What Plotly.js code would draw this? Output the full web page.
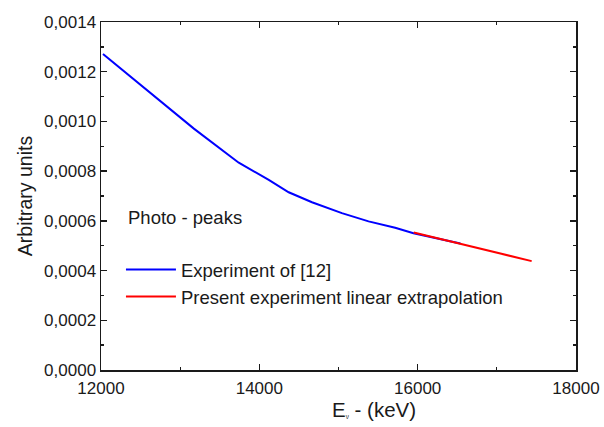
<!DOCTYPE html>
<html>
<head>
<meta charset="utf-8">
<script src="https://cdn.plot.ly/plotly-3.0.1.min.js"></script>
<style>html,body{margin:0;padding:0;background:#fff;}#chart{width:604px;height:427px;}</style>
</head>
<body>
<div id="chart"></div>
<script>
// Experiment of [12] (blue)
const expEnergy = [12025, 12521, 13173, 13740, 14119, 14371, 14665, 15043, 15380, 15716, 15947, 16540];
const expValue  = [0.001271, 0.001142, 0.000971, 0.000834, 0.000765, 0.000715, 0.000675, 0.000631, 0.000598, 0.000572, 0.000550, 0.000509];
// Present experiment linear extrapolation (red)
const extEnergy = [15950, 17440];
const extValue  = [0.000553, 0.000438];

const seriesNames = ["Experiment of [12]", "Present experiment linear extrapolation"];
const groupLabel = "Photo - peaks";
const xTitle = "E<span style=\"font-size:9px\"><sub>ν</sub></span> - (keV)";
const yTitle = "Arbitrary units";

const FONT = "Liberation Sans, Arial, sans-serif";

const traces = [
  {x: expEnergy, y: expValue, mode: "lines", name: seriesNames[0],
   line: {color: "#0000ff", width: 2}},
  {x: extEnergy, y: extValue, mode: "lines", name: seriesNames[1],
   line: {color: "#ff0000", width: 2}}
];

const axisCommon = {
  showline: true, linecolor: "#1a1a1a", linewidth: 1.5, mirror: "allticks",
  ticks: "inside", ticklen: 6, tickwidth: 1.3, tickcolor: "#1a1a1a",
  showgrid: false, zeroline: false,
  tickfont: {family: FONT, size: 17, color: "#1a1a1a"}
};

const layout = {
  width: 604, height: 427,
  margin: {l: 101, r: 28, t: 22, b: 57},
  paper_bgcolor: "#fff", plot_bgcolor: "#fff",
  separators: ", ",
  font: {family: FONT, color: "#1a1a1a"},
  showlegend: true,
  legend: {
    x: 0.042, y: 0.342, xanchor: "left", yanchor: "top",
    bgcolor: "rgba(0,0,0,0)", borderwidth: 0,
    font: {family: FONT, size: 18.5, color: "#1a1a1a"},
    itemwidth: 50, tracegroupgap: 0
  },
  xaxis: Object.assign({}, axisCommon, {
    range: [12000, 18000], dtick: 2000, tick0: 12000, tickformat: "d",
    ticklabelstandoff: 2,
    minor: {dtick: 1000, ticks: "inside", ticklen: 3, tickcolor: "#1a1a1a", tickwidth: 1.3}
  }),
  yaxis: Object.assign({}, axisCommon, {
    range: [0, 0.0014], dtick: 0.0002, tick0: 0, tickformat: ".4f",
    minor: {dtick: 0.0001, ticks: "inside", ticklen: 3, tickcolor: "#1a1a1a", tickwidth: 1.3},
    title: {text: yTitle, font: {family: FONT, size: 19.5, color: "#1a1a1a"}, standoff: 6}
  }),
  annotations: [
    {text: groupLabel, xref: "paper", yref: "paper", x: 0.052, y: 0.438,
     xanchor: "left", yanchor: "middle", showarrow: false,
     font: {family: FONT, size: 18.5, color: "#1a1a1a"}},
    {text: xTitle, xref: "paper", yref: "paper", x: 0.574, y: -0.114,
     xanchor: "center", yanchor: "middle", showarrow: false,
     font: {family: FONT, size: 20.5, color: "#1a1a1a"}}
  ]
};

Plotly.newPlot("chart", traces, layout, {displayModeBar: false, staticPlot: true});
</script>
</body>
</html>
